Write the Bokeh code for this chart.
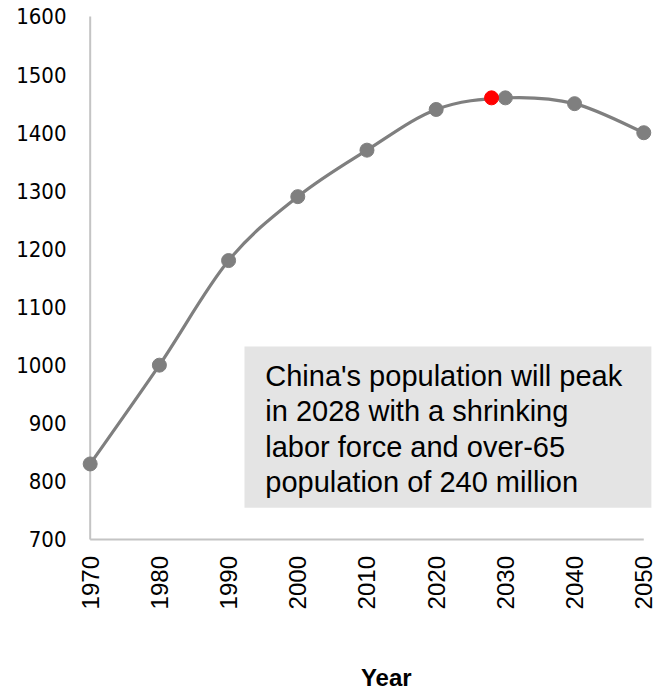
import numpy as np
from bokeh.plotting import figure
from bokeh.models import BoxAnnotation, Range1d
from bokeh.core.properties import value
from bokeh.embed import file_html
from bokeh.resources import INLINE

# China population (millions) by decade, with the projected peak year highlighted
years = [1970, 1980, 1990, 2000, 2010, 2020, 2030, 2040, 2050]
population = [830, 1000, 1180, 1290, 1370, 1440, 1460, 1450, 1400]
peak_year = [2028]
peak_population = [1460]

x_ticks = [1970, 1980, 1990, 2000, 2010, 2020, 2030, 2040, 2050]
y_ticks = [700, 800, 900, 1000, 1100, 1200, 1300, 1400, 1500, 1600]
x_tick_labels = [str(v) for v in x_ticks]
y_tick_labels = [str(v) for v in y_ticks]

note_lines = [
    "China's population will peak",
    "in 2028 with a shrinking",
    "labor force and over-65",
    "population of 240 million",
]
x_title = "Year"

GRAY = "#7f7f7f"
AXIS_GRAY = "#c4c4c4"

# the plotting frame spans the whole canvas; axes are drawn by hand
p = figure(
    width=654, height=692,
    x_range=Range1d(1957.04, 2051.55),
    y_range=Range1d(436.7, 1627.53),
    x_axis_type=None, y_axis_type=None, title=None,
    output_backend="svg", toolbar_location=None,
    min_border=0,
)
p.outline_line_color = None
p.background_fill_color = "white"
p.border_fill_color = "white"

# axis rules meeting at (1970, 700)
p.segment(x0=[x_ticks[0], x_ticks[0]], y0=[y_ticks[0], y_ticks[0]],
          x1=[x_ticks[0], x_ticks[-1]], y1=[y_ticks[-1], y_ticks[0]],
          line_color=AXIS_GRAY, line_width=2)

# tick labels
p.text(x=[1966.58] * len(y_ticks), y=y_ticks, text=y_tick_labels,
       text_font=value("DejaVu Sans Condensed"), text_font_size=value("22px"),
       text_color="#000000", text_align="right", text_baseline="middle")
p.text(x=x_ticks, y=[671.6] * len(x_ticks), text=x_tick_labels, angle=np.pi / 2,
       text_font=value("Liberation Sans"), text_font_size=value("24px"),
       text_color="#000000", text_align="right", text_baseline="middle")

# smoothed line through the decade points (cubic Bezier segments)
xs = np.array(years, dtype=float)
ys = np.array(population, dtype=float)
xp = np.concatenate([[xs[0]], xs, [xs[-1]]])
yp = np.concatenate([[ys[0]], ys, [ys[-1]]])
n = len(xs)
cx0 = xs[:-1] + (xp[2:n + 1] - xp[0:n - 1]) / 6.0
cy0 = ys[:-1] + (yp[2:n + 1] - yp[0:n - 1]) / 6.0
cx1 = xs[1:] - (xp[3:n + 2] - xp[1:n]) / 6.0
cy1 = ys[1:] - (yp[3:n + 2] - yp[1:n]) / 6.0
p.bezier(x0=xs[:-1], y0=ys[:-1], x1=xs[1:], y1=ys[1:],
         cx0=cx0, cy0=cy0, cx1=cx1, cy1=cy1,
         line_color=GRAY, line_width=3.2)

p.scatter(years, population, size=14, fill_color=GRAY, line_color=GRAY)
p.scatter(peak_year, peak_population, size=14, fill_color="#ff0000", line_color="#ff0000")

# note box
p.add_layout(BoxAnnotation(left=1992.3, right=2051.1, bottom=754.5, top=1032.0,
                           fill_color="#e4e4e4", fill_alpha=1.0, line_color=None,
                           level="underlay"))
first_line_y = 982.2
line_step = 61.26
note_y = [first_line_y - i * line_step for i in range(len(note_lines))]
p.text(x=[1995.3] * len(note_lines), y=note_y, text=note_lines,
       text_font=value("Liberation Sans"), text_font_size=value("29px"),
       text_color="#000000", text_align="left", text_baseline="middle")

# x-axis title
p.text(x=[2012.79], y=[462.0], text=[x_title],
       text_font=value("Liberation Sans"), text_font_size=value("24px"),
       text_font_style="bold", text_color="#000000",
       text_align="center", text_baseline="middle")

open("out.html", "w").write(file_html(p, INLINE))
